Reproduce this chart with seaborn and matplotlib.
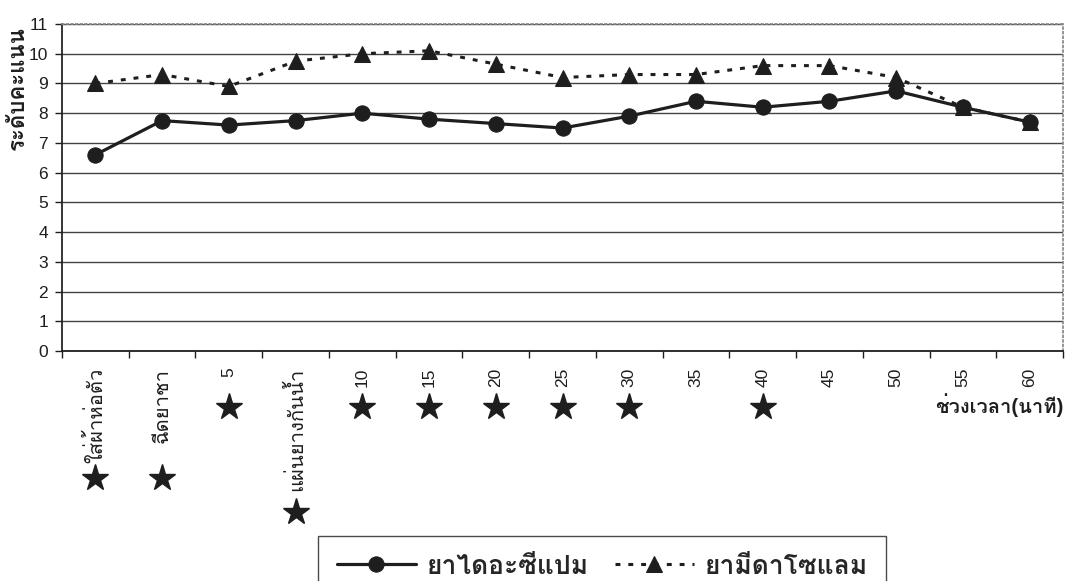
import matplotlib
matplotlib.use("Agg")
import matplotlib.pyplot as plt
import matplotlib.transforms as mtransforms
from matplotlib import font_manager
from matplotlib.ft2font import FT2Font
import numpy as np
import pandas as pd
import seaborn as sns

# ข้อมูลจากกราฟ
time_labels = ["ใส่ผ้าห่อตัว", "ฉีดยาชา", "5", "แผ่นยางกันน้ำ", "10", "15", "20",
               "25", "30", "35", "40", "45", "50", "55", "60"]
diazepam = [6.6, 7.75, 7.6, 7.75, 8.0, 7.8, 7.65, 7.5, 7.9, 8.4, 8.2, 8.4, 8.75, 8.2, 7.7]
midazolam = [9.0, 9.3, 8.9, 9.75, 10.0, 10.1, 9.65, 9.2, 9.3, 9.3, 9.6, 9.6, 9.2, 8.2, 7.7]
star_marked = [1, 1, 1, 1, 1, 1, 1, 1, 1, 0, 1, 0, 0, 0, 0]
series_names = ["ยาไดอะซีแปม", "ยามีดาโซแลม"]

# ตำแหน่งดาวใต้ป้ายแกน x (พิกเซลจากขอบบน)
star_y_px = [478, 478, 407, 512, 407, 407, 407, 407, 407, 407, 407, 407, 407, 407, 407]


def find_thai_font():
    for f in font_manager.fontManager.ttflist:
        try:
            if ord("ก") in FT2Font(f.fname).get_charmap():
                return f.name
        except Exception:
            continue
    return None


sns.set_theme(style="white")
thai_font = find_thai_font()
families = ["Liberation Sans"] + ([thai_font] if thai_font else []) + ["DejaVu Sans"]
plt.rcParams["font.family"] = families

W, H = 1066, 581
fig = plt.figure(figsize=(W / 100, H / 100), dpi=100)
ax = fig.add_axes([62 / W, 1 - 351 / H, (1063 - 62) / W, (351 - 24) / H])

pos = np.arange(len(time_labels))
df = pd.DataFrame({"pos": pos, "diazepam": diazepam, "midazolam": midazolam})

ink = "#1e1e1e"
sns.lineplot(data=df, x="pos", y="diazepam", ax=ax, color=ink, lw=2.3,
             marker="o", markersize=11, markeredgecolor=ink, label=series_names[0])
sns.lineplot(data=df, x="pos", y="midazolam", ax=ax, color=ink, lw=2.2,
             marker="^", markersize=12, markeredgecolor=ink, dashes=(1.6, 2.6),
             label=series_names[1])

ax.set_xlim(-0.5, len(time_labels) - 0.5)
ax.set_ylim(0, 11)
ax.set_yticks(range(0, 12))
ax.yaxis.grid(True, color="#444", lw=1.0)
ax.xaxis.grid(False)
ax.set_axisbelow(True)

ax.set_xticks(pos)
ax.set_xticklabels(time_labels, rotation=90, fontsize=12.5, color=ink)
for lab in ax.get_xticklabels():
    if not lab.get_text().isdigit():
        lab.set_fontsize(14.5)
ax.set_xticks(np.arange(-0.5, len(time_labels)), minor=True)
ax.tick_params(axis="x", which="major", length=0, pad=12)
ax.tick_params(axis="x", which="minor", length=5, width=1, color=ink, direction="out")
ax.tick_params(axis="y", length=5, width=1, color=ink, direction="out", pad=5,
               labelsize=12.5, labelcolor=ink)
ax.tick_params(bottom=True, left=True, which="both")

for side in ["top", "right"]:
    ax.spines[side].set_color("#888")
    ax.spines[side].set_linestyle(":")
ax.spines["left"].set_color(ink)
ax.spines["bottom"].set_color(ink)
ax.spines["bottom"].set_linewidth(1.3)
ax.set_xlabel("")
ax.set_ylabel("")

# ดาวทำเครื่องหมายช่วงเวลา
trans = mtransforms.blended_transform_factory(ax.transData, fig.transFigure)
for i, marked in enumerate(star_marked):
    if marked:
        ax.plot(i, 1 - star_y_px[i] / H, marker="*", markersize=20, color=ink,
                transform=trans, clip_on=False)

fig.text(18 / W, 1 - 88 / H, "ระดับคะแนน", rotation=90, ha="center", va="center",
         fontsize=16, fontweight="bold", color=ink)
fig.text(1064 / W, 1 - 405 / H, "ช่วงเวลา(นาที)", ha="right", va="center",
         fontsize=14.5, fontweight="bold", color=ink)

handles, labels = ax.get_legend_handles_labels()
if ax.legend_:
    ax.legend_.remove()
leg = fig.legend(handles, labels, loc="upper left", bbox_to_anchor=(305 / W, 1 - 523 / H),
                 ncol=2, frameon=True, fancybox=False, edgecolor=ink, borderpad=0.7,
                 handlelength=3.0, columnspacing=1.0, handletextpad=0.4,
                 prop={"size": 19, "weight": "bold"})
leg.get_frame().set_linewidth(1.0)

fig.savefig("out.png", dpi=100)
